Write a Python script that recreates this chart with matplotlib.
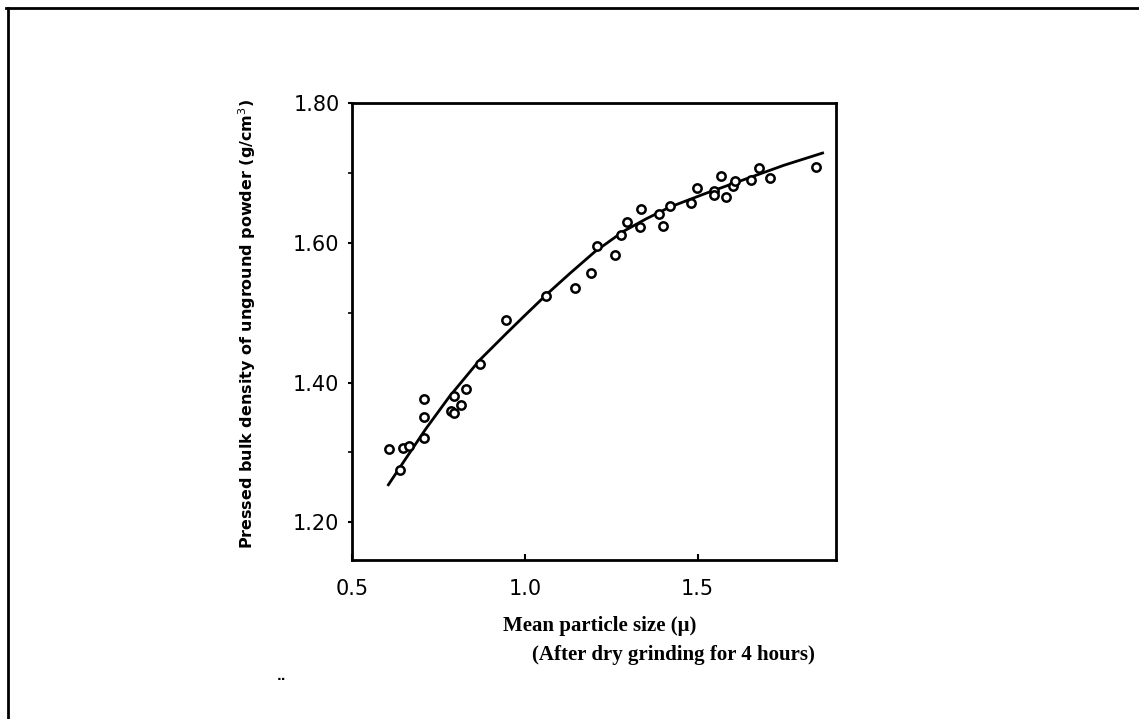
import matplotlib
matplotlib.use("Agg")
import matplotlib.pyplot as plt
from matplotlib.lines import Line2D
from matplotlib.ticker import FixedLocator

# Measured samples: mean particle size (micron) vs pressed bulk density (g/cm3)
size_um = [0.608, 0.639, 0.647, 0.664, 0.707, 0.709, 0.709, 0.787, 0.796,
           0.796, 0.816, 0.830, 0.869, 0.946, 1.060, 1.144, 1.192, 1.209,
           1.260, 1.279, 1.296, 1.332, 1.337, 1.388, 1.400, 1.419, 1.482,
           1.498, 1.547, 1.547, 1.566, 1.581, 1.603, 1.607, 1.654, 1.677,
           1.709, 1.841]
density = [1.305, 1.275, 1.306, 1.309, 1.376, 1.321, 1.350, 1.359, 1.356,
           1.380, 1.368, 1.390, 1.427, 1.489, 1.524, 1.535, 1.557, 1.595,
           1.583, 1.611, 1.629, 1.623, 1.649, 1.641, 1.624, 1.653, 1.657,
           1.678, 1.674, 1.668, 1.696, 1.665, 1.681, 1.689, 1.690, 1.707,
           1.693, 1.708]

# Hand-drawn trend curve through the data
curve_x = [0.603, 0.650, 0.714, 0.782, 0.869, 0.946, 1.000, 1.065, 1.130,
           1.202, 1.284, 1.350, 1.419, 1.525, 1.660, 1.750, 1.865]
curve_y = [1.252, 1.287, 1.334, 1.380, 1.432, 1.470, 1.496, 1.527, 1.556,
           1.587, 1.616, 1.634, 1.651, 1.671, 1.695, 1.711, 1.729]

x_ticks = [0.5, 1.0, 1.5]
x_tick_labels = ["0.5", "1.0", "1.5"]
y_ticks = [1.20, 1.40, 1.60, 1.80]
y_tick_labels = ["1.20", "1.40", "1.60", "1.80"]
y_minor = [1.30, 1.50, 1.70]

fig = plt.figure(figsize=(11.39, 7.19), dpi=100)
fig.patch.set_facecolor("white")

# Page border (top and left edges)
fig.add_artist(Line2D([6 / 1139, 1.0], [1 - 8 / 719, 1 - 8 / 719],
                      transform=fig.transFigure, color="black", lw=2.0))
fig.add_artist(Line2D([8 / 1139, 8 / 1139], [1 - 8 / 719, 0.0],
                      transform=fig.transFigure, color="black", lw=2.0))

ax = fig.add_axes([352 / 1139, 1 - 560 / 719, (836 - 352) / 1139,
                   (560 - 103) / 719])
ax.set_xlim(0.5, 1.90)
ax.set_ylim(1.146, 1.80)

ax.plot(curve_x, curve_y, color="black", lw=2.0, solid_capstyle="butt",
        solid_joinstyle="round")
ax.plot(size_um, density, linestyle="none", marker="o", markersize=6,
        markerfacecolor="white", markeredgecolor="black",
        markeredgewidth=1.8)

for s in ax.spines.values():
    s.set_linewidth(2.0)

ax.xaxis.set_major_locator(FixedLocator(x_ticks))
ax.set_xticklabels(x_tick_labels)
ax.yaxis.set_major_locator(FixedLocator(y_ticks))
ax.set_yticklabels(y_tick_labels)
ax.yaxis.set_minor_locator(FixedLocator(y_minor))
ax.tick_params(axis="x", direction="in", length=4, width=1.5, pad=14,
               labelsize=15)
ax.tick_params(axis="y", direction="out", length=3, width=1.5, pad=6,
               labelsize=15)
ax.tick_params(axis="y", which="minor", direction="out", length=3, width=1.2)

fig.text(247 / 1139, 1 - 324 / 719,
         "Pressed bulk density of unground powder (g/cm$^3$)",
         rotation=90, ha="center", va="center", fontsize=11.5,
         fontweight="bold", family="DejaVu Sans")
fig.text(600 / 1139, 1 - 626 / 719, "Mean particle size (\u03bc)",
         ha="center", va="center", fontsize=15, fontweight="bold",
         family="Liberation Serif")
fig.text(673 / 1139, 1 - 655 / 719, "(After dry grinding for 4 hours)",
         ha="center", va="center", fontsize=15, fontweight="bold",
         family="Liberation Serif")
fig.text(282 / 1139, 1 - 676 / 719, "..", ha="center", va="center",
         fontsize=9, fontweight="bold")

fig.savefig("out.png", dpi=100, facecolor="white")
